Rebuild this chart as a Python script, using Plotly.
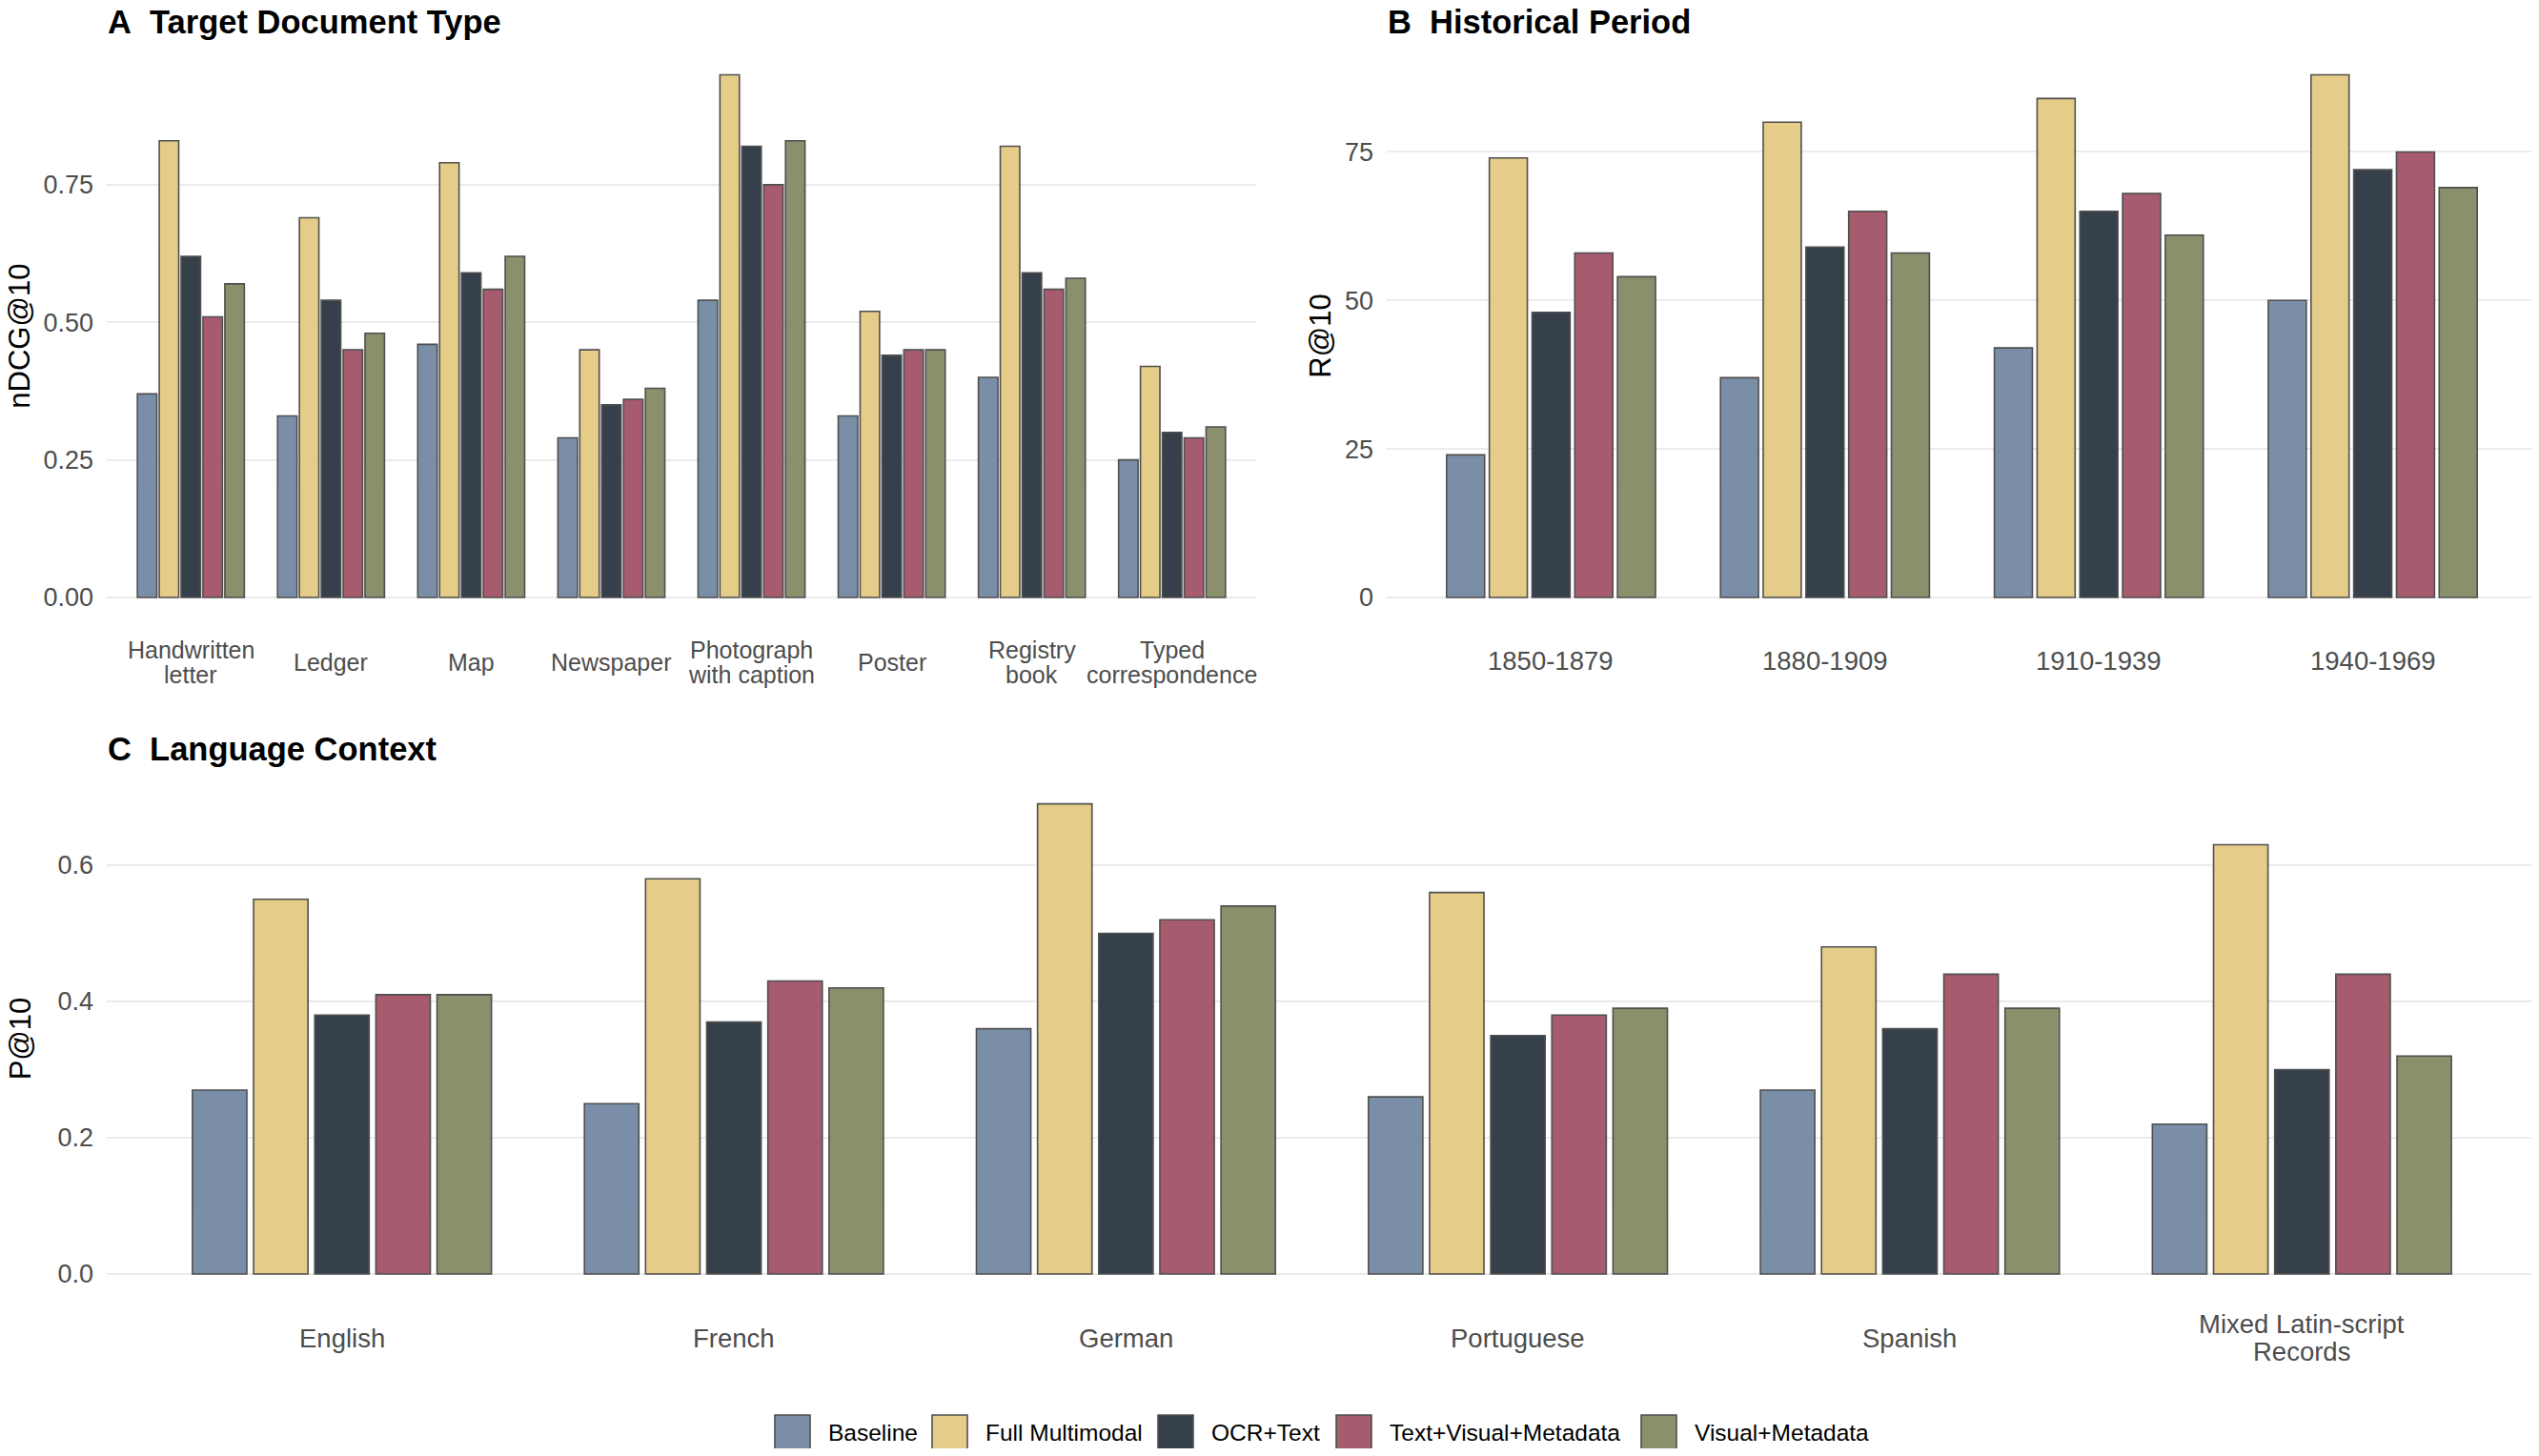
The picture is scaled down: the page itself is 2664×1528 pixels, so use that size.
import plotly.graph_objects as go

# the page body keeps its 8px default margin, so the figure is drawn smaller
W, H = 2664, 1528
OFF = 8
FIG_W, FIG_H = W - OFF, H - 2 * OFF
FONT = "Liberation Sans, Arial, Helvetica, sans-serif"

SERIES = ['Baseline', 'Full Multimodal', 'OCR+Text', 'Text+Visual+Metadata', 'Visual+Metadata']
COLORS = ['#7a8fa7', '#e5cc88', '#35404b', '#a65b6e', '#8a8f6c']

# panel A - target document type (nDCG@10)
DOC_TYPES = ['Handwritten\nletter', 'Ledger', 'Map', 'Newspaper', 'Photograph\nwith caption',
             'Poster', 'Registry\nbook', 'Typed\ncorrespondence']
NDCG_BASELINE = [0.37, 0.33, 0.46, 0.29, 0.54, 0.33, 0.40, 0.25]
NDCG_FULL = [0.83, 0.69, 0.79, 0.45, 0.95, 0.52, 0.82, 0.42]
NDCG_OCR = [0.62, 0.54, 0.59, 0.35, 0.82, 0.44, 0.59, 0.30]
NDCG_TVM = [0.51, 0.45, 0.56, 0.36, 0.75, 0.45, 0.56, 0.29]
NDCG_VM = [0.57, 0.48, 0.62, 0.38, 0.83, 0.45, 0.58, 0.31]

# panel B - historical period (R@10)
PERIODS = ['1850-1879', '1880-1909', '1910-1939', '1940-1969']
R_BASELINE = [24, 37, 42, 50]
R_FULL = [74, 80, 84, 88]
R_OCR = [48, 59, 65, 72]
R_TVM = [58, 65, 68, 75]
R_VM = [54, 58, 61, 69]

# panel C - language context (P@10)
LANGUAGES = ['English', 'French', 'German', 'Portuguese', 'Spanish', 'Mixed Latin-script\nRecords']
P_BASELINE = [0.27, 0.25, 0.36, 0.26, 0.27, 0.22]
P_FULL = [0.55, 0.58, 0.69, 0.56, 0.48, 0.63]
P_OCR = [0.38, 0.37, 0.50, 0.35, 0.36, 0.30]
P_TVM = [0.41, 0.43, 0.52, 0.38, 0.44, 0.44]
P_VM = [0.41, 0.42, 0.54, 0.39, 0.39, 0.32]


# screen pixel -> paper fraction
def fx(px):
    return (px - OFF) / FIG_W


def fy(py):
    return 1 - (py - OFF) / FIG_H


panels = [
    dict(ax='', cats=DOC_TYPES, vals=[NDCG_BASELINE, NDCG_FULL, NDCG_OCR, NDCG_TVM, NDCG_VM],
         title='A\u00a0\u00a0Target Document Type', ytitle='nDCG@10', fmt='.2f', dtick=0.25,
         xd=(112, 1318), yd=(51, 654.4), xfs=25, laby=695, lsp=26.5, ty=23, ytx=21),
    dict(ax='2', cats=PERIODS, vals=[R_BASELINE, R_FULL, R_OCR, R_TVM, R_VM],
         title='B\u00a0\u00a0Historical Period', ytitle='R@10', fmt='d', dtick=25,
         xd=(1455, 2662), yd=(51, 654.4), xfs=27.5, laby=693, lsp=29, ty=23, ytx=1386),
    dict(ax='3', cats=LANGUAGES, vals=[P_BASELINE, P_FULL, P_OCR, P_TVM, P_VM],
         title='C\u00a0\u00a0Language Context', ytitle='P@10', fmt='.1f', dtick=0.2,
         xd=(112, 2662), yd=(819, 1361.7), xfs=27.5, laby=1404, lsp=29, ty=786, ytx=21),
]

fig = go.Figure()
annotations = []
shapes = []
layout = {}

for p in panels:
    for name, color, vals in zip(SERIES, COLORS, p['vals']):
        fig.add_trace(go.Bar(
            x=p['cats'], y=vals, name=name,
            marker=dict(color=color, line=dict(color='#4f4f4f', width=1.6)),
            xaxis='x' + p['ax'], yaxis='y' + p['ax'],
            showlegend=False,
        ))
    ymax = max(max(v) for v in p['vals'])
    n = len(p['cats'])
    layout['xaxis' + p['ax']] = dict(
        domain=[fx(p['xd'][0]), min(fx(p['xd'][1]), 1)], anchor='y' + p['ax'],
        type='category', range=[-0.6, n - 0.4], showticklabels=False,
        showgrid=False, zeroline=False, showline=False, ticks='',
    )
    layout['yaxis' + p['ax']] = dict(
        domain=[fy(p['yd'][1]), fy(p['yd'][0])], anchor='x' + p['ax'],
        range=[-0.05 * ymax, 1.05 * ymax], tick0=0, dtick=p['dtick'],
        tickformat=p['fmt'], ticks='', ticklabelstandoff=13,
        tickfont=dict(family=FONT, size=27, color='#4d4d4d'),
        showgrid=True, gridcolor='#ebebeb', gridwidth=2,
        zeroline=True, zerolinecolor='#ebebeb', zerolinewidth=2, showline=False,
    )
    # category labels, vertically centred like ggplot
    for c in p['cats']:
        lines = c.split('\n')
        for i, line in enumerate(lines):
            yy = p['laby'] + (i - (len(lines) - 1) / 2) * p['lsp']
            annotations.append(dict(
                x=c, xref='x' + p['ax'], y=fy(yy), yref='paper', text=line,
                showarrow=False, xanchor='center', yanchor='middle',
                font=dict(family=FONT, size=p['xfs'], color='#4d4d4d'),
            ))
    annotations.append(dict(
        x=fx(p['xd'][0]), xref='paper', y=fy(p['ty']), yref='paper', borderpad=0,
        text='<b>' + p['title'] + '</b>', showarrow=False, xanchor='left', yanchor='middle',
        font=dict(family=FONT, size=34.5, color='#000000'),
    ))
    annotations.append(dict(
        x=fx(p['ytx']), xref='paper', y=fy((p['yd'][0] + p['yd'][1]) / 2), yref='paper',
        text=p['ytitle'], textangle=-90, showarrow=False, xanchor='center', yanchor='middle',
        borderpad=0, font=dict(family=FONT, size=31, color='#000000'),
    ))

# legend drawn by hand so the keys can be as large as in ggplot
LEGEND_KEY_X = [813, 978, 1215, 1402, 1722]
KEY = 37
LEG_Y = 1503.5
for name, color, kx in zip(SERIES, COLORS, LEGEND_KEY_X):
    shapes.append(dict(
        type='rect', xref='paper', yref='paper',
        x0=fx(kx), x1=fx(kx + KEY), y0=fy(LEG_Y + KEY / 2), y1=fy(LEG_Y - KEY / 2),
        fillcolor=color, line=dict(color='#4f4f4f', width=1.6),
    ))
    annotations.append(dict(
        x=fx(kx + KEY + 17), xref='paper', y=fy(LEG_Y), yref='paper', text=name,
        showarrow=False, xanchor='left', yanchor='middle',
        font=dict(family=FONT, size=24.5, color='#000000'),
    ))

fig.update_layout(
    width=FIG_W, height=FIG_H,
    margin=dict(l=0, r=0, t=0, b=0),
    paper_bgcolor='white', plot_bgcolor='white',
    barmode='group', bargap=0.22, bargroupgap=0.11,
    annotations=annotations, shapes=shapes,
    **layout,
)

fig.write_html("out.html")
